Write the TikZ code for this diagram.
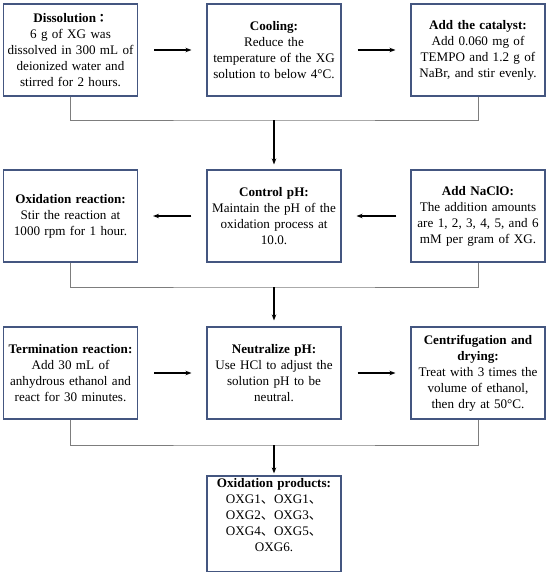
\documentclass[tikz,border=0pt]{standalone}
\usepackage{fontspec}
\setmainfont{Liberation Serif}
\newfontfamily\cjk{Noto Sans CJK SC}
\newfontfamily\cjkjp{Noto Sans CJK JP}
\usetikzlibrary{arrows.meta}
\definecolor{boxline}{RGB}{68,86,128}
\definecolor{conn}{RGB}{125,125,125}
\tikzset{
  stepbox/.style={draw=boxline, line width=1.1pt, minimum width=133pt, minimum height=92pt,
    inner sep=2pt, align=center, text width=130pt,
    font=\fontsize{13.1}{16}\selectfont},
  flowarrow/.style={draw=black, line width=1.1pt, -{Stealth[length=6pt,width=4.5pt]}},
  bracket/.style={draw=conn, line width=1pt},
}
\begin{document}
\begin{tikzpicture}[x=1pt,y=-1pt]
\useasboundingbox (0,0) rectangle (550,573);
% row 1
\node[stepbox] (b1) at (70.5,50) {\textbf{Dissolution{\cjkjp\fontsize{11.5}{16}\selectfont ：}}\\6 g of XG was\\dissolved in 300 mL of\\deionized water and\\stirred for 2 hours.};
\node[stepbox] (b2) at (274,50) {\textbf{Cooling:}\\Reduce the\\temperature of the XG\\solution to below 4°C.};
\node[stepbox] (b3) at (478,50) {\textbf{Add the catalyst:}\\Add 0.060 mg of\\TEMPO and 1.2 g of\\NaBr, and stir evenly.};
% row 2
\node[stepbox] (b4) at (70.5,216) {\textbf{Oxidation reaction:}\\Stir the reaction at\\1000 rpm for 1 hour.};
\node[stepbox] (b5) at (274,216) {\textbf{Control pH:}\\Maintain the pH of the\\oxidation process at\\10.0.};
\node[stepbox] (b6) at (478,216) {\textbf{Add NaClO:}\\The addition amounts\\are 1, 2, 3, 4, 5, and 6\\mM per gram of XG.};
% row 3
\node[stepbox] (b7) at (70.5,373) {\textbf{Termination reaction:}\\Add 30 mL of\\anhydrous ethanol and\\react for 30 minutes.};
\node[stepbox] (b8) at (274,373) {\textbf{Neutralize pH:}\\Use HCl to adjust the\\solution pH to be\\neutral.};
\node[stepbox] (b9) at (478,373) {\textbf{Centrifugation and}\\\textbf{drying:}\\Treat with 3 times the\\volume of ethanol,\\then dry at 50°C.};
% final
\node[stepbox, minimum height=91pt] (b10) at (274,523.5) {\textbf{Oxidation products:}\\OXG1{\cjk 、}OXG1{\cjk 、}\\OXG2{\cjk 、}OXG3{\cjk 、}\\OXG4{\cjk 、}OXG5{\cjk 、}\\OXG6.\\[2pt]\mbox{}};
% junctions
\coordinate (j1) at (274,120);
\coordinate (j2) at (274,287);
\coordinate (j3) at (274,445);
% horizontal arrows
\draw[flowarrow, shorten <=16pt, shorten >=15pt] (b1) -- (b2);
\draw[flowarrow, shorten <=16pt, shorten >=15pt] (b2) -- (b3);
\draw[flowarrow, shorten <=14pt, shorten >=15pt] (b6) -- (b5);
\draw[flowarrow, shorten <=15pt, shorten >=15pt] (b5) -- (b4);
\draw[flowarrow, shorten <=16pt, shorten >=15pt] (b7) -- (b8);
\draw[flowarrow, shorten <=16pt, shorten >=15pt] (b8) -- (b9);
% brackets
\draw[bracket] (b1.south) |- (j1) -| (b3.south);
\draw[bracket] (b4.south) |- (j2) -| (b6.south);
\draw[bracket] (b7.south) |- (j3) -| (b9.south);
% vertical arrows
\draw[flowarrow, shorten >=5pt] (j1) -- (b5.north);
\draw[flowarrow, shorten >=6pt] (j2) -- (b8.north);
\draw[flowarrow, shorten >=2pt] (j3) -- (b10.north);
\end{tikzpicture}
\end{document}
